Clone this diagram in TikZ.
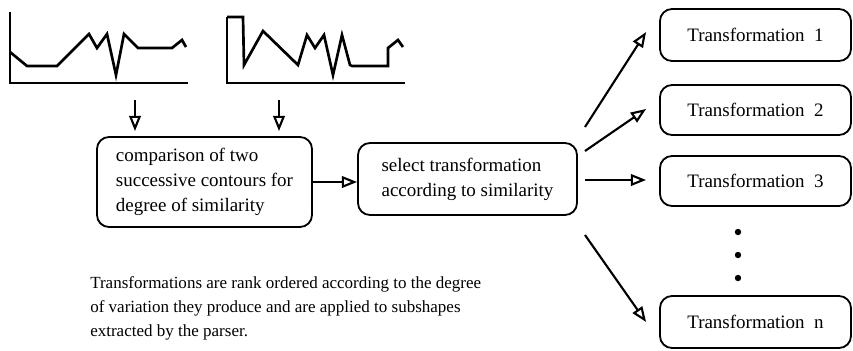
\documentclass[tikz,border=0pt]{standalone}
\usepackage{fontspec}
\setmainfont{Liberation Serif}
\usetikzlibrary{arrows.meta,calc,positioning}

\begin{document}
\begin{tikzpicture}[x=0.25mm,y=-0.25mm,
	box/.style={draw,line width=1.3pt,rounded corners=3mm},
	arr/.style={line width=1.5pt,-{Triangle[open,length=3.8mm,width=2.9mm]}},
	contour/.style={line width=1.9pt,line join=miter},
	axisline/.style={line width=1.5pt},
	boxfont/.style={font=\fontsize{13.5}{17.8}\selectfont}]
				%\draw[color=gray,step=10, help lines,opacity=0.3] (0,0) grid (853,350); %help grids
				\useasboundingbox (0,0) rectangle (853,350);
				% the two contours
				\draw[axisline] (10,12) |- (188,83);
				\draw[contour] (10,52)--(27,66)--(57,66)--(89,34)--(97,48)--(107,34)--(116,75)--(124,34)--(138,48)--(172,48)--(182,40)--(186,47);
				\draw[axisline] (227,17) |- (405,83);
				\draw[contour] (227,17)--(243,17)--(244,65)--(263,31)--(298,65)--(307,35)--(315,48)--(324,35)--(333,75)--(342,35)--(350,65)--(352,66)--(388,66)--(388,48)--(398,40)--(403,47);
				\coordinate (c1) at (135,100);
				\coordinate (c2) at (279,100);
				% boxes
				\node[box,boxfont,align=left,minimum width=53.75mm,minimum height=22.5mm] (cmp) at (204.5,182) {comparison of two\\successive contours for\\degree of similarity};
				\node[box,boxfont,align=left,minimum width=54.75mm,minimum height=18mm] (sel) at (467.5,179) {select transformation\\according to similarity};
				\node[box,boxfont,minimum width=47.75mm,minimum height=13mm] (t1) at (755.5,35) {Transformation~ 1};
				\node[box,boxfont,minimum width=47.75mm,minimum height=12.5mm] (t2) at (755.5,110) {Transformation~ 2};
				\node[box,boxfont,minimum width=47.75mm,minimum height=12.5mm] (t3) at (755.5,181) {Transformation~ 3};
				\node[box,boxfont,minimum width=47.75mm,minimum height=13mm] (tn) at (755.5,322) {Transformation~ n};
				\foreach \y in {232,255,278} \fill (738,\y) circle (0.8mm);
				% arrows
				\draw[arr,shorten >=1.25mm] (c1) -- (c1 |- cmp.north);
				\draw[arr,shorten >=1.25mm] (c2) -- (c2 |- cmp.north);
				\draw[arr] (cmp.east) -- (cmp.east -| sel.west);
				\coordinate (s1) at (585,127);
				\coordinate (s2) at (585,151);
				\coordinate (s3) at (585,180);
				\coordinate (sn) at (585,235);
				\draw[arr] (s1) -- ([xshift=-3.25mm,yshift=0.75mm]t1.west);
				\draw[arr] (s2) -- ([xshift=-3.25mm,yshift=0.25mm]t2.west);
				\draw[arr] (s3) -- ([xshift=-3.25mm]s3 -| t3.west);
				\draw[arr] (sn) -- ([xshift=-3.25mm]tn.west);
				% note below
				\node[anchor=north west,inner sep=0pt,align=left,font=\fontsize{12.1}{17}\selectfont] (note) at (90,276) {Transformations are rank ordered according to the degree\\of variation they produce and are applied to subshapes\\extracted by the parser.};
\end{tikzpicture}
\end{document}
